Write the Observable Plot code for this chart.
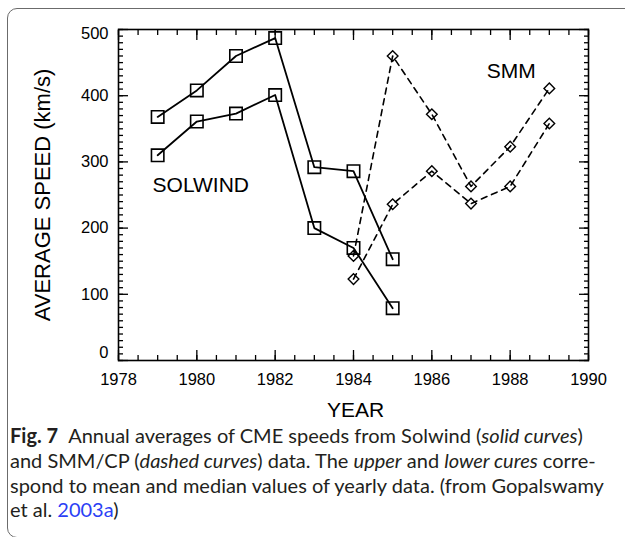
<!DOCTYPE html>
<html><head><meta charset="utf-8">
<script src="https://cdn.jsdelivr.net/npm/d3@7"></script>
<script src="https://cdn.jsdelivr.net/npm/@observablehq/plot@0.6"></script>
<style>
html,body{margin:0;padding:0;background:#fff;width:625px;height:537px;overflow:hidden;}
#box{position:absolute;left:7px;top:8px;width:700px;height:530px;border:1.5px solid #6b6b6b;border-radius:10px;box-sizing:border-box;}
#chart{position:absolute;left:0;top:0;}
#caption{position:absolute;left:10px;top:423px;font-family:Lato,"Open Sans",sans-serif;font-size:20px;line-height:24.8px;color:#231f20;white-space:nowrap;}
#caption a{color:#2b3ff5;text-decoration:none;}
</style>
</head><body>
<div id="box"></div>
<div id="chart"></div>
<div id="caption"><b>Fig. 7</b>&ensp;Annual averages of CME speeds from Solwind (<i>solid curves</i>)<br>and SMM/CP (<i>dashed curves</i>) data. The <i>upper</i> and <i>lower cures</i> corre-<br>spond to mean and median values of yearly data. (from Gopalswamy<br>et al. <a>2003a</a>)</div>
<script>
// Data
const solwindYears = [1979, 1980, 1981, 1982, 1983, 1984, 1985];
const solwindMean = [368, 408, 460, 487, 292, 286, 153];
const solwindMedian = [310, 361, 373, 401, 200, 170, 79];
const smmYears = [1984, 1985, 1986, 1987, 1988, 1989];
const smmMean = [158, 460, 372, 263, 323, 411];
const smmMedian = [123, 236, 286, 237, 263, 358];
const xMajorTicks = [1978, 1980, 1982, 1984, 1986, 1988, 1990];
const yMajorTicks = [0, 100, 200, 300, 400, 500];

const solRows = [
  ...solwindYears.map((year, i) => ({year, value: solwindMean[i], series: "mean"})),
  ...solwindYears.map((year, i) => ({year, value: solwindMedian[i], series: "median"}))
];
const smmRows = [
  ...smmYears.map((year, i) => ({year, value: smmMean[i], series: "mean"})),
  ...smmYears.map((year, i) => ({year, value: smmMedian[i], series: "median"}))
];

const xMinor = d3.range(1978, 1990.001, 0.5);
const yMinor = d3.range(0, 500.001, 10);
const tickStroke = 1.3;

const chart = Plot.plot({
  width: 625,
  height: 425,
  marginLeft: 118,
  marginRight: 37,
  marginTop: 29,
  marginBottom: 65,
  style: {fontFamily: '"Liberation Sans", Arial, Helvetica, sans-serif', fontSize: "16.5px", color: "black", background: "transparent"},
  x: {domain: [1978, 1990]},
  y: {domain: [0, 500]},
  marks: [
    // inward ticks: minor and major, all four sides
    Plot.axisX({anchor: "bottom", ticks: xMinor, tickSize: -5, fill: "none", label: null, strokeWidth: tickStroke}),
    Plot.axisX({anchor: "bottom", ticks: xMajorTicks, tickSize: -10, fill: "none", label: null, strokeWidth: tickStroke}),
    Plot.axisX({anchor: "top", ticks: xMinor, tickSize: -5, fill: "none", label: null, strokeWidth: tickStroke}),
    Plot.axisX({anchor: "top", ticks: xMajorTicks, tickSize: -10, fill: "none", label: null, strokeWidth: tickStroke}),
    Plot.axisY({anchor: "left", ticks: yMinor, tickSize: -5, fill: "none", label: null, strokeWidth: tickStroke}),
    Plot.axisY({anchor: "left", ticks: yMajorTicks, tickSize: -10, fill: "none", label: null, strokeWidth: tickStroke}),
    Plot.axisY({anchor: "right", ticks: yMinor, tickSize: -5, fill: "none", label: null, strokeWidth: tickStroke}),
    Plot.axisY({anchor: "right", ticks: yMajorTicks, tickSize: -10, fill: "none", label: null, strokeWidth: tickStroke}),
    // tick labels
    Plot.axisX({anchor: "bottom", ticks: xMajorTicks, tickSize: 0, tickPadding: 13, tickFormat: "d", label: null}),
    Plot.axisY({anchor: "left", ticks: yMajorTicks.filter(d => d > 0 && d < 500), tickSize: 0, tickPadding: 10, tickFormat: "d", label: null}),
    Plot.axisY({anchor: "left", ticks: [500], tickSize: 0, tickPadding: 10, tickFormat: "d", label: null, dy: 4}),
    Plot.axisY({anchor: "left", ticks: [0], tickSize: 0, tickPadding: 10, tickFormat: "d", label: null, dy: -8}),
    Plot.frame({stroke: "black", strokeWidth: 1.6}),
    // data
    Plot.line(solRows, {x: "year", y: "value", z: "series", stroke: "black", strokeWidth: 1.8}),
    Plot.dot(solRows, {x: "year", y: "value", symbol: "square", r: 7, stroke: "black", strokeWidth: 1.6, fill: "none"}),
    Plot.line(smmRows, {x: "year", y: "value", z: "series", stroke: "black", strokeWidth: 1.6, strokeDasharray: "6,5"}),
    Plot.dot(smmRows, {x: "year", y: "value", symbol: "diamond2", r: 4.8, stroke: "black", strokeWidth: 1.4, fill: "none"}),
    // annotations
    Plot.text(["SOLWIND"], {x: 1978.87, y: 264, text: d => d, textAnchor: "start", fontSize: 21}),
    Plot.text(["SMM"], {x: 1987.4, y: 437, text: d => d, textAnchor: "start", fontSize: 21}),
    // axis titles
    Plot.text(["YEAR"], {frameAnchor: "bottom", text: d => d, textAnchor: "middle", lineAnchor: "middle", dy: 49.5, dx: 2, fontSize: 21}),
    Plot.text(["AVERAGE SPEED (km/s)"], {frameAnchor: "left", text: d => d, textAnchor: "middle", lineAnchor: "middle", rotate: -90, dx: -76, fontSize: 22})
  ]
});
document.getElementById("chart").appendChild(chart);
</script>
</body></html>
